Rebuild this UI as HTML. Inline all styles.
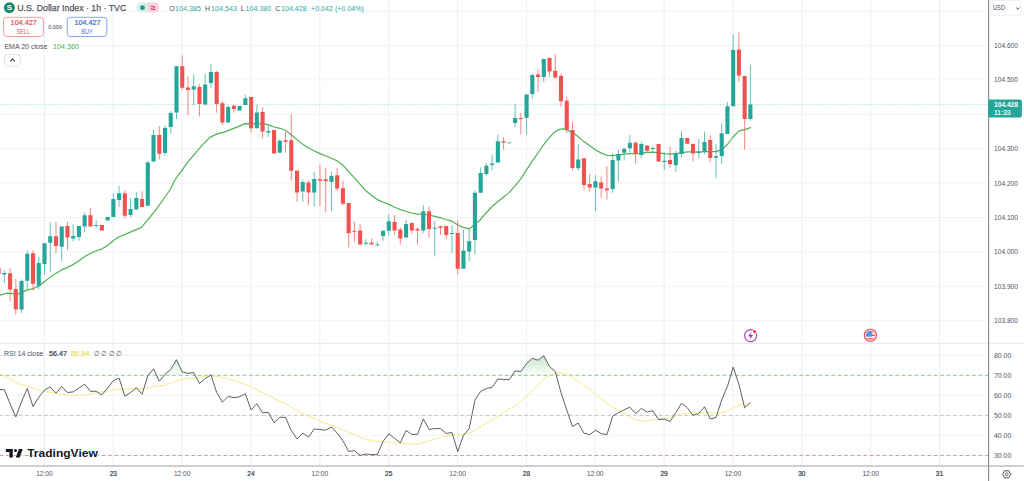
<!DOCTYPE html>
<html lang="en"><head><meta charset="utf-8"><title>U.S. Dollar Index chart</title>
<style>html,body{margin:0;padding:0;background:#fff;overflow:hidden}body{width:1024px;height:481px}svg{display:block}text{white-space:pre}</style>
</head><body>
<svg width="1024" height="481" viewBox="0 0 1024 481" font-family='"Liberation Sans", Arial, sans-serif'>
<defs>
<linearGradient id="ob" gradientUnits="userSpaceOnUse" x1="0" y1="354" x2="0" y2="375.2"><stop offset="0" stop-color="#4caf50" stop-opacity="0.33"/><stop offset="1" stop-color="#4caf50" stop-opacity="0.02"/></linearGradient>
<clipPath id="c70"><rect x="0" y="344" width="988" height="31.2"/></clipPath>
<clipPath id="cf"><circle cx="870.4" cy="335.3" r="4.4"/></clipPath>
<clipPath id="main"><rect x="0" y="0" width="988" height="466"/></clipPath>
</defs>
<rect width="1024" height="481" fill="#fff"/>
<path d="M0 11.1H988.6M0 45.5H988.6M0 79.9H988.6M0 114.3H988.6M0 148.7H988.6M0 183.1H988.6M0 217.5H988.6M0 251.9H988.6M0 286.3H988.6M0 320.7H988.6M0 355.4H988.6M0 375.3H988.6M0 395.3H988.6M0 415.3H988.6M0 435.3H988.6M0 455.5H988.6" stroke="#f0f3f6" stroke-width="1" fill="none"/>
<path d="M44.45 0V466M113.3 0V466M182.15 0V466M251 0V466M319.85 0V466M388.7 0V466M457.55 0V466M526.4 0V466M595.25 0V466M664.1 0V466M732.95 0V466M801.8 0V466M870.65 0V466M939.5 0V466" stroke="#ebeff4" stroke-width="1" fill="none"/>
<path d="M0 343.4H1024" stroke="#e9ecf1" stroke-width="1.2" fill="none"/>
<path d="M0 375.3H988.6" stroke="#74bd78" stroke-width="0.85" stroke-dasharray="3.4 3" stroke-dashoffset="0.45" fill="none"/>
<path d="M0 415.4H988.6" stroke="#b9bcc4" stroke-width="0.85" stroke-dasharray="3.4 3" stroke-dashoffset="0.45" fill="none"/>
<path d="M0 455.5H988.6" stroke="#de827e" stroke-width="0.85" stroke-dasharray="3.4 3" stroke-dashoffset="0.45" fill="none"/>
<path d="M0 104.6H988.6" stroke="#26a69a" stroke-width="1" stroke-dasharray="1 1.4" opacity="0.42" fill="none"/>
<g clip-path="url(#main)">
<polyline points="-2,295.6 0,295.2 6.7,293.2 13.3,293.6 18.3,294.1 23.3,291.6 28.3,289.6 33.3,288.6 39.1,285.7 44.6,281.6 49.9,277.4 55.7,273.6 61.6,269.9 67.4,267.4 73.2,264.6 79,260.8 84.9,256.6 90.7,253.3 96.5,250.8 101.5,249.1 107.3,245.8 113.1,240.8 119,236.8 124.8,234.6 129.8,232.4 141.4,227.4 149.8,217.4 156.4,209.1 166.4,195 170,190 174.9,180 179.9,173.2 188.2,161.6 196.6,151.6 203.2,144.1 209.9,137.4 216.5,134.1 223.2,132.4 229.8,129.9 238.2,126.6 244.8,123.6 251,123.8 256.8,123.6 263.1,123.8 268.1,124.6 274.1,127 279.9,128.3 285.4,130.2 291,134.5 296.8,139.6 302.6,144.1 308.3,148 314.1,150.8 319.9,153.6 325.3,155.8 330.9,158 336.9,160.8 342.7,164.9 348.7,171.6 354.9,178.3 359.9,184.1 365.7,190.7 371.5,195.3 377.3,199.6 383.2,202.2 388.7,204.4 394.7,207.2 400.3,209.6 405.8,211.3 411.7,213 417.5,214.1 423.1,214.1 429,215 434.8,216.3 440.6,217.8 446.1,219.5 451.8,221.1 457.8,225 463.2,227.4 469.2,228.8 475.1,224.6 480,220 486,213 492,206.5 499.9,200 509.4,192.4 515.2,185.7 520.5,179.1 526.5,169.9 533.2,159.9 539.9,150 546.5,140.8 553.2,133.3 558.2,129.7 563.1,128.8 566.5,129.7 572.3,132.5 578,136.6 583.9,141.6 589.8,145.8 595.6,150 600.9,152.9 606.7,155.3 612.6,155.6 618.1,154.8 624.1,154.1 630,153.6 635.3,153.6 640.9,153.3 646.9,152.4 652.7,152.1 658.6,152.8 664.4,153.6 670,154.1 675.7,153.6 681.2,152.8 687.2,151.9 692.8,151.9 698.8,152.1 704.5,151.6 710.3,151.6 715.6,151.6 721.5,149.9 727.3,144.5 733,137 739,130.8 744.7,129.6 750.5,127.6" fill="none" stroke="#50b154" stroke-width="1.2" stroke-linejoin="round" stroke-linecap="round"/>
<path d="M4.33 270.8V283.3M21.54 279.6V313.2M27.28 250.3V289.1M38.76 257.1V289.6M44.5 243.3V274.9M50.24 222.1V271.6M61.72 226.6V260.8M73.19 224V241.4M78.93 226V240.8M84.67 212.4V231.9M96.15 219.9V227.7M107.63 217V220.4M113.37 193.3V217.1M119.11 185.8V207M130.58 198.3V217M136.32 192.1V209.6M147.8 160.7V205.8M153.54 130V161.6M165.02 125.3V155.7M170.76 111.3V133.3M176.5 66.3V119.1M193.71 74.4V105.2M205.19 74.1V104.6M210.93 64.1V87.9M228.15 105.4V122.5M239.63 106V110.4M245.37 94.6V104.9M256.84 104.8V128.3M268.32 125.8V136.9M279.8 139.1V152.7M302.75 179.4V201.9M314.23 171.9V206.4M331.45 171.9V210.8M365.88 239.1V245.7M377.36 241.6V245.4M383.1 230.8V240.8M388.84 214.5V235.4M406.06 220V237.4M423.27 205V233.3M434.75 220.8V256.6M451.97 225V252.9M463.45 229.9V268.7M469.19 229.1V261.2M474.93 190.7V254.1M480.66 167.4V192.7M486.4 163.3V175.7M492.14 154.9V170.4M497.88 134.6V162.4M509.36 142.6V143.2M515.1 104.4V127.5M526.58 94.1V134.1M532.32 73.3V98.6M543.79 58.3V81.9M578.23 144.1V170.4M595.44 175.2V211.1M612.66 153.3V192.8M618.4 150V181.9M624.14 147.4V160.7M629.88 135V152.4M641.36 141.9V158.3M652.83 146.6V151.6M664.31 152.4V169.9M675.79 150.8V171.6M681.53 130.8V157.1M698.75 138.6V158.3M704.49 131.6V154.1M715.96 144.1V178.2M721.7 123.4V163.7M727.44 102.3V134M733.18 34.7V106.3M750.4 64.6V120.6" stroke="#26a69a" stroke-width="1" opacity="0.7" fill="none"/>
<path d="M-1.41 268.3V274.1M10.07 268V301.6M15.8 279.1V314.5M33.02 250.3V290.7M55.98 222V253M67.46 222V250M90.41 207.9V226.6M101.89 224.9V230.4M124.85 190.3V218.3M142.06 191.3V207M159.28 126.3V159.6M182.24 55.3V89.9M187.97 76.3V115.5M199.45 84.1V116.3M216.67 70.8V112.8M222.41 101.2V125M233.89 104.9V112.7M251.1 96.6V132.4M262.58 107.2V138.3M274.06 130V153.6M285.54 131.9V152.7M291.28 114.1V180.7M297.02 170.8V201.9M308.49 180.7V205.2M319.97 164.9V206.4M325.71 167.9V212.1M337.19 167.9V191.2M342.93 180.7V205.1M348.67 203V247.4M354.41 221.3V241.6M360.14 224.1V244.6M371.62 238.6V244.6M394.58 215.3V234.6M400.32 227.4V244.6M411.8 222.5V233.8M417.53 227.4V244.6M429.01 206.6V237.9M440.49 225.4V234.9M446.23 225.8V239.1M457.71 220V274M503.62 137.1V149.6M520.84 112.9V134.6M538.05 69.1V91.9M549.53 57.5V77.1M555.27 54.2V78.8M561.01 73.3V106.9M566.75 96.6V133.3M572.49 122V170.4M583.97 158.3V190.2M589.71 174.1V191.5M601.18 176.4V197.8M606.92 166.1V199.5M635.62 141.3V163.6M647.1 145.4V151.9M658.57 144.1V161.6M670.05 146.6V167.9M687.27 138V143.8M693.01 143.3V161.2M710.22 135V161.9M738.92 32.5V82.1M744.66 76.1V149.7" stroke="#ef5350" stroke-width="1" opacity="0.7" fill="none"/>
<path d="M2.28 273h4.1v1.6h-4.1zM19.49 281.1h4.1v28.4h-4.1zM25.23 253.8h4.1v27h-4.1zM36.71 263h4.1v22.7h-4.1zM42.45 243.3h4.1v20.8h-4.1zM48.19 236.2h4.1v6.5h-4.1zM59.67 226.6h4.1v20.1h-4.1zM71.14 236h4.1v2.5h-4.1zM76.88 226h4.1v10.9h-4.1zM82.62 215.3h4.1v11.3h-4.1zM94.1 225h4.1v1h-4.1zM105.58 217h4.1v3.4h-4.1zM111.32 199.1h4.1v18h-4.1zM117.06 193.3h4.1v6.7h-4.1zM128.53 209.1h4.1v5.9h-4.1zM134.27 198h4.1v11.6h-4.1zM145.75 162.4h4.1v43.4h-4.1zM151.49 134.9h4.1v26.7h-4.1zM162.97 128h4.1v24.9h-4.1zM168.71 113h4.1v14.1h-4.1zM174.45 66.3h4.1v46.3h-4.1zM191.66 86.3h4.1v3.3h-4.1zM203.14 84.4h4.1v20.2h-4.1zM208.88 72.1h4.1v10.8h-4.1zM226.1 106.9h4.1v15.6h-4.1zM237.58 106h4.1v4.4h-4.1zM243.31 98.2h4.1v6.7h-4.1zM254.79 112.4h4.1v15.9h-4.1zM266.27 131.1h4.1v1.3h-4.1zM277.75 140.8h4.1v11.9h-4.1zM300.7 182.1h4.1v9.5h-4.1zM312.18 179.1h4.1v13.3h-4.1zM329.4 176.1h4.1v5.8h-4.1zM363.83 242.8h4.1v1h-4.1zM375.31 244.6h4.1v0.9h-4.1zM381.05 230.8h4.1v5.3h-4.1zM386.79 221.3h4.1v9.5h-4.1zM404.01 224.1h4.1v13.3h-4.1zM421.22 211.3h4.1v19.1h-4.1zM432.7 227.8h4.1v1h-4.1zM449.92 232.9h4.1v1.2h-4.1zM461.4 250.4h4.1v18.3h-4.1zM467.14 241.3h4.1v10.3h-4.1zM472.88 192.7h4.1v47.2h-4.1zM478.61 172.9h4.1v19.8h-4.1zM484.35 165.8h4.1v8.3h-4.1zM490.09 163.6h4.1v1.3h-4.1zM495.83 141.3h4.1v21.1h-4.1zM507.31 142.6h4.1v0.6h-4.1zM513.05 117.9h4.1v5.1h-4.1zM524.53 94.6h4.1v23.1h-4.1zM530.27 75h4.1v19.1h-4.1zM541.74 59.1h4.1v18h-4.1zM576.18 159.6h4.1v8.7h-4.1zM593.39 181.2h4.1v6.3h-4.1zM610.61 159.9h4.1v29h-4.1zM616.35 154.1h4.1v6.4h-4.1zM622.09 149.1h4.1v3.7h-4.1zM627.83 142.8h4.1v5.5h-4.1zM639.31 144.1h4.1v10.8h-4.1zM650.78 147.9h4.1v1.2h-4.1zM662.26 160.7h4.1v1.2h-4.1zM673.74 153.6h4.1v11.6h-4.1zM679.48 138h4.1v16.1h-4.1zM696.7 151.6h4.1v1.2h-4.1zM702.44 142.1h4.1v9.5h-4.1zM713.91 156.3h4.1v1.5h-4.1zM719.65 133.3h4.1v22.7h-4.1zM725.39 106.3h4.1v27.7h-4.1zM731.13 50h4.1v56.3h-4.1zM748.35 104.6h4.1v14.5h-4.1z" fill="#26a69a"/>
<path d="M-3.46 268.3h4.1v5.8h-4.1zM8.02 273.3h4.1v16.3h-4.1zM13.75 289.1h4.1v20.4h-4.1zM30.97 253.3h4.1v30.5h-4.1zM53.93 236.2h4.1v9.8h-4.1zM65.41 226h4.1v11.4h-4.1zM88.36 215.3h4.1v11.3h-4.1zM99.84 224.9h4.1v5.5h-4.1zM122.8 193.3h4.1v22.5h-4.1zM140.01 199.1h4.1v7.9h-4.1zM157.23 134.9h4.1v18.8h-4.1zM180.19 66.3h4.1v21.5h-4.1zM185.92 87.4h4.1v2.5h-4.1zM197.4 87.1h4.1v17h-4.1zM214.62 72.1h4.1v32h-4.1zM220.36 103.2h4.1v19.3h-4.1zM231.84 105.7h4.1v3.3h-4.1zM249.05 97.1h4.1v31.2h-4.1zM260.53 112h4.1v19.6h-4.1zM272.01 130h4.1v23.6h-4.1zM283.49 140.3h4.1v1.5h-4.1zM289.23 140.3h4.1v30.5h-4.1zM294.97 170.8h4.1v21.6h-4.1zM306.44 182.4h4.1v10h-4.1zM317.92 179.3h4.1v1.4h-4.1zM323.66 179.3h4.1v1.9h-4.1zM335.14 175.3h4.1v13.3h-4.1zM340.88 188.2h4.1v15.5h-4.1zM346.62 203h4.1v30.3h-4.1zM352.36 230.8h4.1v0.9h-4.1zM358.09 230.4h4.1v14.2h-4.1zM369.57 242.8h4.1v1.8h-4.1zM392.53 222.1h4.1v8.3h-4.1zM398.27 229.4h4.1v9.2h-4.1zM409.75 223h4.1v7.4h-4.1zM415.48 229.1h4.1v1.3h-4.1zM426.96 211.3h4.1v17.8h-4.1zM438.44 226.6h4.1v1.3h-4.1zM444.18 226.1h4.1v8.8h-4.1zM455.66 232.9h4.1v35.8h-4.1zM501.57 141.3h4.1v1.3h-4.1zM518.79 117.9h4.1v1.1h-4.1zM536 74.6h4.1v2.5h-4.1zM547.48 58h4.1v13.6h-4.1zM553.22 70.8h4.1v6.6h-4.1zM558.96 76.1h4.1v25.1h-4.1zM564.7 100.7h4.1v29h-4.1zM570.44 130h4.1v37.9h-4.1zM581.92 158.3h4.1v26.6h-4.1zM587.66 184.1h4.1v3.3h-4.1zM599.13 182.4h4.1v6.1h-4.1zM604.87 188.5h4.1v1.7h-4.1zM633.57 142.8h4.1v11.3h-4.1zM645.05 145.4h4.1v5.4h-4.1zM656.52 144.1h4.1v17.5h-4.1zM668 159.9h4.1v4.2h-4.1zM685.22 138h4.1v5.8h-4.1zM690.96 144.1h4.1v9.5h-4.1zM708.17 140h4.1v17.9h-4.1zM736.87 49.5h4.1v25.9h-4.1zM742.61 76.1h4.1v43h-4.1z" fill="#ef5350"/>
<path d="M-7.15 375.2L-7.15 389.6L-1.41 389.6L4.33 389.6L10.07 403.7L15.8 416.9L21.54 401.7L27.28 388.4L33.02 406.6L38.76 397.4L44.5 390L50.24 387L55.98 393.3L61.72 386.4L67.46 392.5L73.19 391.9L78.93 388L84.67 384.1L90.41 391.3L96.15 391.3L101.89 394.9L107.63 388L113.37 380.6L119.11 378.2L124.85 396.2L130.58 392.5L136.32 387.6L142.06 394.3L147.8 375.7L153.54 368.9L159.28 381.2L165.02 374.3L170.76 369.4L176.5 359.7L182.24 372L187.97 373.3L193.71 372.6L199.45 383.4L205.19 378.7L210.93 374.8L216.67 392.4L222.41 402.2L228.15 396.3L233.89 397.7L239.63 396.7L245.37 393.8L251.1 410L256.84 403.7L262.58 412.9L268.32 412.3L274.06 422.7L279.8 417.2L285.54 417.4L291.28 430.5L297.02 438.9L302.75 433.1L308.49 437L314.23 429L319.97 429.5L325.71 430.1L331.45 427L337.19 433.1L342.93 440.9L348.67 451.4L354.41 450.7L360.14 455.3L365.88 454L371.62 454.6L377.36 454.6L383.1 441.3L388.84 433.8L394.58 438.3L400.32 442.8L406.06 430.5L411.8 434.4L417.53 434.4L423.27 418.8L429.01 429.5L434.75 428.6L440.49 428.6L446.23 433.4L451.97 432.5L457.71 451.6L463.45 435.4L469.19 428.6L474.93 400.2L480.66 391.4L486.4 388.5L492.14 387.3L497.88 379L503.62 379.6L509.36 379.6L515.1 370.8L520.84 371.6L526.58 363.4L532.32 358.3L538.05 360.2L543.79 355.8L549.53 366.6L555.27 371.5L561.01 392.5L566.75 410L572.49 426.5L578.23 423.1L583.97 433.2L589.71 434.6L595.44 430.3L601.18 433.6L606.92 434.8L612.66 416.2L618.4 412.7L624.14 409.8L629.88 407.2L635.62 413.7L641.36 408.4L647.1 412.1L652.83 410.7L658.57 419.5L664.31 419.1L670.05 421.5L675.79 412.7L681.53 403.3L687.27 407.8L693.01 415.2L698.75 413.7L704.49 406.8L710.22 419L715.96 417.6L721.7 400L727.44 386.3L733.18 367.1L738.92 384.3L744.66 407.8L750.4 402.4L750.4 375.2Z" fill="url(#ob)" clip-path="url(#c70)"/>
<polyline points="-2,373.3 0,373.9 5.9,376.3 11.7,380.2 19.6,384.5 27.4,386.4 35.2,389 44.6,391.5 54.7,393.3 66.5,394.9 78.2,395.2 88,394.5 97.8,392.5 107.5,390.9 117.3,389 127.1,389 136.9,389 146.6,388 156.4,386.1 166.2,385.1 176,381.2 185.7,378.8 195.5,378.2 199.8,377.3 209.6,375.8 219.3,376.8 229.1,379.3 238.9,382 248.7,385.6 258.4,390.4 268.2,395.3 278,400.2 287.8,405.1 297.5,411 307.3,415.5 317.1,419.8 326.9,423.7 336.6,427 346.4,431.5 356.2,435.4 366,439.3 375.7,441.3 385.5,441.9 390,442 399.6,443.2 409.3,443.8 417.1,444.2 425,442.2 434.7,439.3 444.5,436 454.3,434.4 462.1,434.4 469.9,433.1 477.8,428.6 487.5,422.7 497.3,416.8 507.1,410 515.4,405.9 526.8,395.8 538.2,384.4 545.9,377.4 553.5,373.6 559.2,372.7 566.2,374.2 572.5,377.4 581.4,383.1 591.6,390.7 601.7,399 609.1,404.5 618.9,410.7 628.7,416.6 636.5,420.1 644.3,421.5 652.1,420.1 659.9,419.5 667.8,418.2 675.6,416 683.4,413.7 691.2,412.7 699,412.7 706.9,412.7 714.7,413.3 722.5,412.7 728.4,410.7 734.2,407.2 740.1,404.9 745,404.5 750.4,403.3" fill="none" stroke="#f5ea82" stroke-width="0.95" stroke-linejoin="round"/>
<polyline points="-7.15,389.6 -1.41,389.6 4.33,389.6 10.07,403.7 15.8,416.9 21.54,401.7 27.28,388.4 33.02,406.6 38.76,397.4 44.5,390 50.24,387 55.98,393.3 61.72,386.4 67.46,392.5 73.19,391.9 78.93,388 84.67,384.1 90.41,391.3 96.15,391.3 101.89,394.9 107.63,388 113.37,380.6 119.11,378.2 124.85,396.2 130.58,392.5 136.32,387.6 142.06,394.3 147.8,375.7 153.54,368.9 159.28,381.2 165.02,374.3 170.76,369.4 176.5,359.7 182.24,372 187.97,373.3 193.71,372.6 199.45,383.4 205.19,378.7 210.93,374.8 216.67,392.4 222.41,402.2 228.15,396.3 233.89,397.7 239.63,396.7 245.37,393.8 251.1,410 256.84,403.7 262.58,412.9 268.32,412.3 274.06,422.7 279.8,417.2 285.54,417.4 291.28,430.5 297.02,438.9 302.75,433.1 308.49,437 314.23,429 319.97,429.5 325.71,430.1 331.45,427 337.19,433.1 342.93,440.9 348.67,451.4 354.41,450.7 360.14,455.3 365.88,454 371.62,454.6 377.36,454.6 383.1,441.3 388.84,433.8 394.58,438.3 400.32,442.8 406.06,430.5 411.8,434.4 417.53,434.4 423.27,418.8 429.01,429.5 434.75,428.6 440.49,428.6 446.23,433.4 451.97,432.5 457.71,451.6 463.45,435.4 469.19,428.6 474.93,400.2 480.66,391.4 486.4,388.5 492.14,387.3 497.88,379 503.62,379.6 509.36,379.6 515.1,370.8 520.84,371.6 526.58,363.4 532.32,358.3 538.05,360.2 543.79,355.8 549.53,366.6 555.27,371.5 561.01,392.5 566.75,410 572.49,426.5 578.23,423.1 583.97,433.2 589.71,434.6 595.44,430.3 601.18,433.6 606.92,434.8 612.66,416.2 618.4,412.7 624.14,409.8 629.88,407.2 635.62,413.7 641.36,408.4 647.1,412.1 652.83,410.7 658.57,419.5 664.31,419.1 670.05,421.5 675.79,412.7 681.53,403.3 687.27,407.8 693.01,415.2 698.75,413.7 704.49,406.8 710.22,419 715.96,417.6 721.7,400 727.44,386.3 733.18,367.1 738.92,384.3 744.66,407.8 750.4,402.4" fill="none" stroke="#4a4d57" stroke-width="0.9" stroke-linejoin="round"/>
</g>
<circle cx="750.6" cy="335.6" r="6" fill="#fff" stroke="#ab47bc" stroke-width="1.25"/>
<path d="M751.7 331.9l-3.6 4.4h2.3l-1 3.2 3.7-4.5h-2.4z" fill="#9c27b0"/>
<circle cx="754.5" cy="331.5" r="2.3" fill="#fff"/><circle cx="754.5" cy="331.5" r="1.6" fill="#f23645"/>
<circle cx="870.4" cy="335.3" r="6" fill="#fff" stroke="#f0545f" stroke-width="1.3"/>
<g clip-path="url(#cf)"><rect x="865" y="330" width="11" height="11" fill="#fff"/>
<rect x="865" y="330.95" width="11" height="1.7" fill="#ef5350"/>
<rect x="865" y="334.45" width="11" height="1.7" fill="#ef5350"/>
<rect x="865" y="337.95" width="11" height="1.7" fill="#ef5350"/>
<rect x="865" y="330" width="6.8" height="6.7" fill="#4a96e6"/></g>
<rect x="988.6" y="0" width="35.4" height="481" fill="#fff"/>
<rect x="0" y="466" width="1024" height="15" fill="#fff"/>
<path d="M988.6 0V481" stroke="#888b95" stroke-width="1.15" fill="none"/>
<path d="M0 466H1024" stroke="#9da0a8" stroke-width="1.05" fill="none"/>
<path d="M989.2 343.4H1024" stroke="#e9ecf1" stroke-width="1.2" fill="none"/>
<text x="994" y="47.9" font-size="7.7" fill="#50535e" textLength="24" lengthAdjust="spacingAndGlyphs">104.600</text>
<text x="994" y="82.3" font-size="7.7" fill="#50535e" textLength="24" lengthAdjust="spacingAndGlyphs">104.500</text>
<text x="994" y="151.1" font-size="7.7" fill="#50535e" textLength="24" lengthAdjust="spacingAndGlyphs">104.300</text>
<text x="994" y="185.5" font-size="7.7" fill="#50535e" textLength="24" lengthAdjust="spacingAndGlyphs">104.200</text>
<text x="994" y="219.9" font-size="7.7" fill="#50535e" textLength="24" lengthAdjust="spacingAndGlyphs">104.100</text>
<text x="994" y="254.3" font-size="7.7" fill="#50535e" textLength="24" lengthAdjust="spacingAndGlyphs">104.000</text>
<text x="994" y="288.7" font-size="7.7" fill="#50535e" textLength="24" lengthAdjust="spacingAndGlyphs">103.900</text>
<text x="994" y="323.1" font-size="7.7" fill="#50535e" textLength="24" lengthAdjust="spacingAndGlyphs">103.800</text>
<text x="994" y="357.8" font-size="7.8" fill="#50535e" textLength="17.3" lengthAdjust="spacingAndGlyphs">80.00</text>
<text x="994" y="377.7" font-size="7.8" fill="#50535e" textLength="17.3" lengthAdjust="spacingAndGlyphs">70.00</text>
<text x="994" y="397.7" font-size="7.8" fill="#50535e" textLength="17.3" lengthAdjust="spacingAndGlyphs">60.00</text>
<text x="994" y="417.7" font-size="7.8" fill="#50535e" textLength="17.3" lengthAdjust="spacingAndGlyphs">50.00</text>
<text x="994" y="437.7" font-size="7.8" fill="#50535e" textLength="17.3" lengthAdjust="spacingAndGlyphs">40.00</text>
<text x="994" y="457.9" font-size="7.8" fill="#50535e" textLength="17.3" lengthAdjust="spacingAndGlyphs">30.00</text>
<path d="M988 99.4H1019.9a2 2 0 0 1 2 2V115.5a2 2 0 0 1-2 2H988z" fill="#26a69a"/>
<text x="994" y="107.3" font-size="7.5" fill="#fff" textLength="24" lengthAdjust="spacingAndGlyphs" font-weight="bold">104.428</text>
<text x="994" y="115.4" font-size="7.5" fill="#fff" textLength="16.5" lengthAdjust="spacingAndGlyphs" stroke="#fff" stroke-width="0.15">11:33</text>
<rect x="991.3" y="0.5" width="29.8" height="14.8" rx="2.5" fill="#fff" stroke="#eef0f5" stroke-width="1"/>
<text x="993" y="10.2" font-size="7.5" fill="#40434d" textLength="12" lengthAdjust="spacingAndGlyphs">USD</text>
<path d="M1016.3 7.7l1.5 1.4 1.5-1.4" stroke="#40434d" stroke-width="1" fill="none"/>
<text x="36.2" y="476.2" font-size="7.4" fill="#50535e" textLength="16.5" lengthAdjust="spacingAndGlyphs">12:00</text>
<text x="109.65" y="476.2" font-size="7.4" fill="#33363f" textLength="7.3" lengthAdjust="spacingAndGlyphs" stroke="#33363f" stroke-width="0.2">23</text>
<text x="173.9" y="476.2" font-size="7.4" fill="#50535e" textLength="16.5" lengthAdjust="spacingAndGlyphs">12:00</text>
<text x="247.35" y="476.2" font-size="7.4" fill="#33363f" textLength="7.3" lengthAdjust="spacingAndGlyphs" stroke="#33363f" stroke-width="0.2">24</text>
<text x="311.6" y="476.2" font-size="7.4" fill="#50535e" textLength="16.5" lengthAdjust="spacingAndGlyphs">12:00</text>
<text x="385.05" y="476.2" font-size="7.4" fill="#33363f" textLength="7.3" lengthAdjust="spacingAndGlyphs" stroke="#33363f" stroke-width="0.2">25</text>
<text x="449.3" y="476.2" font-size="7.4" fill="#50535e" textLength="16.5" lengthAdjust="spacingAndGlyphs">12:00</text>
<text x="522.75" y="476.2" font-size="7.4" fill="#33363f" textLength="7.3" lengthAdjust="spacingAndGlyphs" stroke="#33363f" stroke-width="0.2">28</text>
<text x="587" y="476.2" font-size="7.4" fill="#50535e" textLength="16.5" lengthAdjust="spacingAndGlyphs">12:00</text>
<text x="660.45" y="476.2" font-size="7.4" fill="#33363f" textLength="7.3" lengthAdjust="spacingAndGlyphs" stroke="#33363f" stroke-width="0.2">29</text>
<text x="724.7" y="476.2" font-size="7.4" fill="#50535e" textLength="16.5" lengthAdjust="spacingAndGlyphs">12:00</text>
<text x="798.15" y="476.2" font-size="7.4" fill="#33363f" textLength="7.3" lengthAdjust="spacingAndGlyphs" stroke="#33363f" stroke-width="0.2">30</text>
<text x="862.4" y="476.2" font-size="7.4" fill="#50535e" textLength="16.5" lengthAdjust="spacingAndGlyphs">12:00</text>
<text x="935.85" y="476.2" font-size="7.4" fill="#33363f" textLength="7.3" lengthAdjust="spacingAndGlyphs" stroke="#33363f" stroke-width="0.2">31</text>
<polygon points="1010.8,474.3 1008.75,477.85 1004.65,477.85 1002.6,474.3 1004.65,470.75 1008.75,470.75" fill="none" stroke="#50535e" stroke-width="1"/>
<circle cx="1006.7" cy="474.3" r="1.4" fill="none" stroke="#50535e" stroke-width="0.9"/>
<circle cx="9.4" cy="7.6" r="5.45" fill="#12876a"/>
<text x="9.4" y="10.4" font-size="7.9" fill="#fff" font-weight="bold" text-anchor="middle">S</text>
<text x="17.2" y="10.7" font-size="9.3" fill="#53565f" textLength="109.1" lengthAdjust="spacingAndGlyphs" stroke="#53565f" stroke-width="0.25">U.S. Dollar Index · 1h · TVC</text>
<path d="M141.3 2.6h6.4v10h-6.4a5 5 0 0 1 0-10z" fill="#d5efe9"/>
<path d="M147.7 2.6h6.6a5 5 0 0 1 0 10h-6.6z" fill="#fbd3e2"/>
<circle cx="142.5" cy="7.7" r="2.4" fill="#1c9b85"/>
<path d="M150.7 6.7q1.1-0.9 2.3 0t2.3 0M150.7 9.1q1.1-0.9 2.3 0t2.3 0" stroke="#d6247a" stroke-width="1.05" fill="none"/>
<text x="169.4" y="10.7" font-size="8" fill="#50535e" textLength="5.2" lengthAdjust="spacingAndGlyphs">O</text>
<text x="175" y="10.7" font-size="8" fill="#2fa89c" textLength="26" lengthAdjust="spacingAndGlyphs">104.385</text>
<text x="205" y="10.7" font-size="8" fill="#50535e" textLength="5" lengthAdjust="spacingAndGlyphs">H</text>
<text x="211" y="10.7" font-size="8" fill="#2fa89c" textLength="26" lengthAdjust="spacingAndGlyphs">104.543</text>
<text x="240.8" y="10.7" font-size="8" fill="#50535e" textLength="3.8" lengthAdjust="spacingAndGlyphs">L</text>
<text x="245.6" y="10.7" font-size="8" fill="#2fa89c" textLength="25.6" lengthAdjust="spacingAndGlyphs">104.380</text>
<text x="275.2" y="10.7" font-size="8" fill="#50535e" textLength="5" lengthAdjust="spacingAndGlyphs">C</text>
<text x="281" y="10.7" font-size="8" fill="#2fa89c" textLength="25.6" lengthAdjust="spacingAndGlyphs">104.428</text>
<text x="311" y="10.7" font-size="8" fill="#2fa89c" textLength="53" lengthAdjust="spacingAndGlyphs">+0.042 (+0.04%)</text>
<rect x="3.6" y="17.3" width="39.8" height="19.2" rx="3" fill="#fff" stroke="#f29ca3" stroke-width="1"/>
<text x="10.6" y="25.3" font-size="7.2" fill="#e04c57" textLength="26.3" lengthAdjust="spacingAndGlyphs" stroke="#e04c57" stroke-width="0.2">104.427</text>
<text x="16.6" y="33.7" font-size="6.4" fill="#e4525c" textLength="13.4" lengthAdjust="spacingAndGlyphs">SELL</text>
<text x="48.2" y="29" font-size="5.8" fill="#3a3d47" textLength="13.8" lengthAdjust="spacingAndGlyphs">0.000</text>
<rect x="67.2" y="17.3" width="39.6" height="19.2" rx="3" fill="#fff" stroke="#85a6f2" stroke-width="1"/>
<text x="74.6" y="25.3" font-size="7.2" fill="#3a66dc" textLength="26" lengthAdjust="spacingAndGlyphs" stroke="#3a66dc" stroke-width="0.2">104.427</text>
<text x="81.3" y="33.7" font-size="6.4" fill="#3e6ce0" textLength="11.4" lengthAdjust="spacingAndGlyphs">BUY</text>
<text x="4.4" y="48.8" font-size="7.2" fill="#50535e" textLength="43" lengthAdjust="spacingAndGlyphs">EMA 20 close</text>
<text x="53.1" y="48.8" font-size="7.2" fill="#4caf50" textLength="26" lengthAdjust="spacingAndGlyphs">104.360</text>
<rect x="4.6" y="54.6" width="15.8" height="11.5" rx="2" fill="#fff" stroke="#e0e3eb" stroke-width="1"/>
<path d="M10.1 61.4l2.4-2.3 2.4 2.3" stroke="#3a3d47" stroke-width="1.05" fill="none"/>
<text x="4" y="355.6" font-size="7.6" fill="#50535e" textLength="39.5" lengthAdjust="spacingAndGlyphs">RSI 14 close</text>
<text x="49" y="355.6" font-size="7.6" fill="#33363f" textLength="18" lengthAdjust="spacingAndGlyphs" stroke="#33363f" stroke-width="0.2">56.47</text>
<text x="71" y="355.6" font-size="7.6" fill="#f1e25a" textLength="18.5" lengthAdjust="spacingAndGlyphs" stroke="#f1e25a" stroke-width="0.25">55.94</text>
<text x="94" y="355.6" font-size="7.4" fill="#5a5d68" textLength="28" lengthAdjust="spacingAndGlyphs">∅ ∅ ∅ ∅</text>
<g fill="#131722" stroke="#fff" stroke-width="1.6" paint-order="stroke" stroke-linejoin="round">
<path d="M5.9 449h6.9v8.5h-3.4v-5.6h-3.5z"/>
<circle cx="15.5" cy="450.4" r="1.5"/>
<path d="M18.9 449h3.9l-3.1 8.5h-3.9z"/>
<text x="27.2" y="457.4" font-size="11.4" fill="#131722" textLength="70.6" lengthAdjust="spacingAndGlyphs" font-weight="bold">TradingView</text>
</g>
</svg>
</body></html>
